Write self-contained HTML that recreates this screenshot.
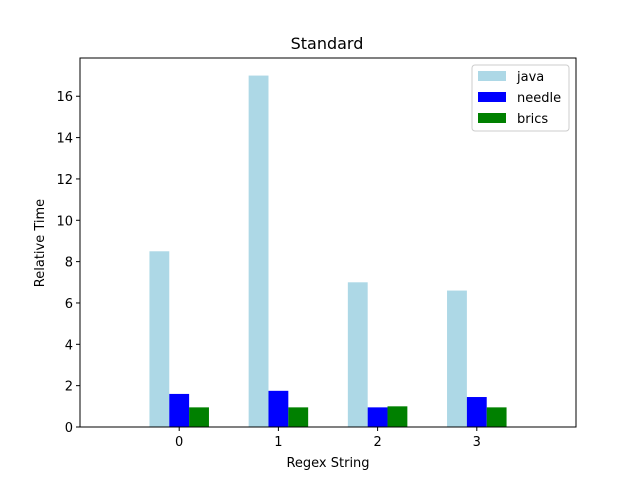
<!DOCTYPE html>
<html><head><meta charset="utf-8"><style>body{margin:0;background:#fff}svg{display:block}text{font-family:"DejaVu Sans","Liberation Sans",sans-serif;fill:#000}</style></head>
<body>
<svg id="chart" width="640" height="480">
<rect width="640" height="480" fill="#fff"/>
<text x="327" y="49" font-size="16" text-anchor="middle">Standard</text>
<g id="bars"></g>
<g id="axes"></g>
<rect x="80" y="58" width="496" height="369" fill="none" stroke="#000" stroke-width="1"/>
<text x="328" y="467" font-size="13" text-anchor="middle">Regex String</text>
<text transform="translate(44,243) rotate(-90)" font-size="13" text-anchor="middle">Relative Time</text>
<g>
<rect x="472" y="65" width="97" height="66" fill="#fff" stroke="#ccc" rx="3"/>
<rect x="478" y="71" width="28" height="10" fill="#add8e6"/>
<text x="517" y="81" font-size="13">java</text>
<rect x="478" y="92" width="28" height="10" fill="#0000ff"/>
<text x="517" y="102" font-size="13">needle</text>
<rect x="478" y="113" width="28" height="10" fill="#008000"/>
<text x="517" y="123" font-size="13">brics</text>
</g>
</svg>
<script>
const categories = ["0","1","2","3"];
const javaValues = [8.5, 17.0, 7.0, 6.6];
const needleValues = [1.6, 1.75, 0.95, 1.45];
const bricsValues = [0.95, 0.95, 1.0, 0.95];
const yTicks = [0,2,4,6,8,10,12,14,16];

const L=80,R=576,T=58,B=427,xmin=-1,xmax=4,ymax=17.85;
const xs=v=>L+(v-xmin)/(xmax-xmin)*(R-L);
const ys=v=>B-v/ymax*(B-T);
const ns="http://www.w3.org/2000/svg";
const bars=document.getElementById('bars'),axes=document.getElementById('axes');
const series=[[javaValues,"#add8e6","java",-0.2],[needleValues,"#0000ff","needle",0],[bricsValues,"#008000","brics",0.2]];
series.forEach(([vals,col,nm,off])=>{
  vals.forEach((v,i)=>{
    const r=document.createElementNS(ns,'rect');
    const x0=xs(i+off-0.1),x1=xs(i+off+0.1);
    r.setAttribute('x',x0);r.setAttribute('width',x1-x0);
    r.setAttribute('y',ys(v));r.setAttribute('height',ys(0)-ys(v));
    r.setAttribute('fill',col);
    
    
    bars.appendChild(r);
  });
});
categories.forEach((c,i)=>{
  const x=xs(i);
  const l=document.createElementNS(ns,'line');
  l.setAttribute('x1',x);l.setAttribute('x2',x);l.setAttribute('y1',B);l.setAttribute('y2',B+4);l.setAttribute('stroke','#000');
  axes.appendChild(l);
  const t=document.createElementNS(ns,'text');
  t.setAttribute('x',x);t.setAttribute('y',B+19);t.setAttribute('font-size','13');t.setAttribute('text-anchor','middle');
  t.textContent=c;
  
  
  axes.appendChild(t);
});
yTicks.forEach(v=>{
  const y=ys(v);
  const l=document.createElementNS(ns,'line');
  l.setAttribute('x1',L-4);l.setAttribute('x2',L);l.setAttribute('y1',y);l.setAttribute('y2',y);l.setAttribute('stroke','#000');
  axes.appendChild(l);
  const t=document.createElementNS(ns,'text');
  t.setAttribute('x',L-7);t.setAttribute('y',y+5);t.setAttribute('font-size','13');t.setAttribute('text-anchor','end');
  t.textContent=v;
  
  
  axes.appendChild(t);
});
</script>
</body></html>
